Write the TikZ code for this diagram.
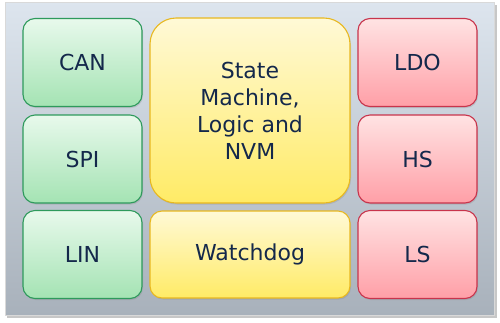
\documentclass[tikz,border=0pt]{standalone}
\usepackage{fontspec}
\setmainfont{DejaVu Sans}
\usepackage{tikz}
\usetikzlibrary{shadows}
\definecolor{bgtop}{HTML}{DDE5EE}
\definecolor{bgbot}{HTML}{A8B1BB}
\definecolor{gntop}{HTML}{E8F9EC}
\definecolor{gnbot}{HTML}{A4E3B3}
\definecolor{gnline}{HTML}{2E9A5C}
\definecolor{yltop}{HTML}{FFF9D6}
\definecolor{ylbot}{HTML}{FFEB66}
\definecolor{ylline}{HTML}{E8B820}
\definecolor{rdtop}{HTML}{FFE3E3}
\definecolor{rdbot}{HTML}{FF9FA7}
\definecolor{rdline}{HTML}{C8344C}
\definecolor{txtnavy}{HTML}{14284B}

\begin{document}
\begin{tikzpicture}[x=1pt, y=-1pt,
  block/.style={line width=1.1pt, rounded corners=12pt, inner sep=2pt, align=center,
    text=txtnavy, font=\fontsize{22}{27}\selectfont,
    drop shadow={shadow xshift=1pt, shadow yshift=-1.5pt, opacity=0.25}},
  small/.style={block, minimum width=119pt, minimum height=88pt},
  iface/.style={small, draw=gnline, top color=gntop, bottom color=gnbot},
  driver/.style={small, draw=rdline, top color=rdtop, bottom color=rdbot},
  core/.style={block, draw=ylline, top color=yltop, bottom color=ylbot, minimum width=200pt}]
  \useasboundingbox (0,0) rectangle (500,322);
  % panel
  \fill[black!22] (7,5) rectangle (497,318);
  \shade[top color=bgtop, bottom color=bgbot, draw=white!85!black, line width=0.5pt] (5,2) rectangle (494,315);
  % left column
  \node[iface] (can) at (82.5,62.5) {CAN};
  \node[iface] (spi) at (82.5,159) {SPI};
  \node[iface] (lin) at (82.5,254.5) {LIN};
  % middle column
  \node[core, minimum height=185pt, rounded corners=26pt] (fsm) at (250,110.5) {State\\Machine,\\Logic and\\NVM};
  \node[core, minimum height=87pt] (wdg) at (250,254.5) {Watchdog};
  % right column
  \node[driver] (ldo) at (417.5,62.5) {LDO};
  \node[driver] (hs) at (417.5,159) {HS};
  \node[driver] (ls) at (417.5,254.5) {LS};
\end{tikzpicture}
\end{document}
